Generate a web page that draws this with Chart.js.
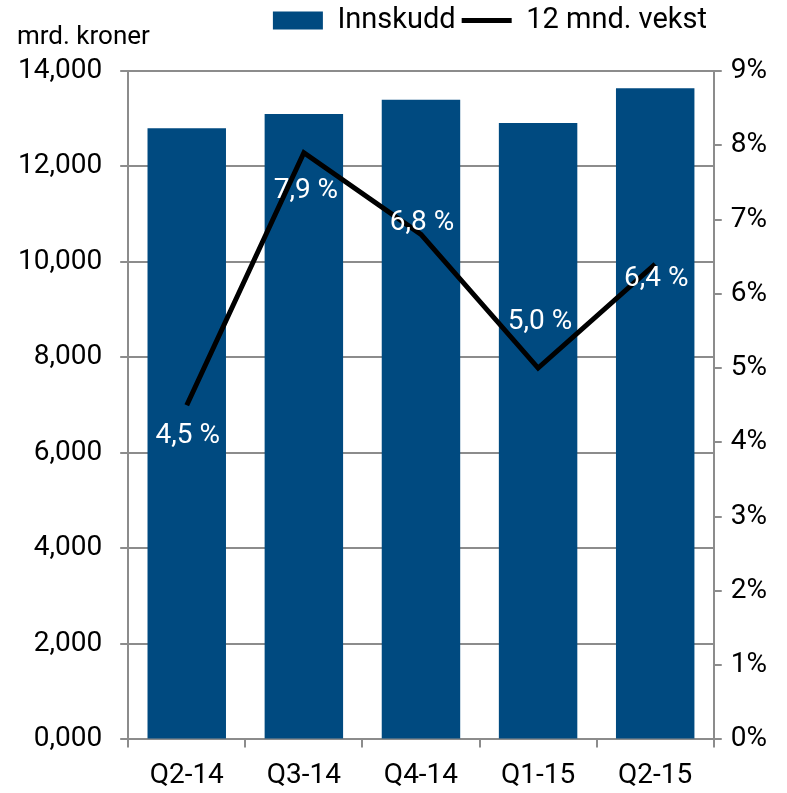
<!DOCTYPE html>
<html>
<head>
<meta charset="utf-8">
<script src="https://cdn.jsdelivr.net/npm/chart.js@4.4.1/dist/chart.umd.min.js"></script>
<style>
  html, body { margin: 0; padding: 0; background: #fff; }
</style>
</head>
<body>
<canvas id="myChart" width="787" height="793"></canvas>
<script>
// data
var kvartal = ['Q2-14', 'Q3-14', 'Q4-14', 'Q1-15', 'Q2-15'];
var innskudd = [12800, 13100, 13400, 12910, 13640];
var vekst = [4.5, 7.9, 6.8, 5.0, 6.4];
var vekstTekst = ['4,5 %', '7,9 %', '6,8 %', '5,0 %', '6,4 %'];
var venstreTicks = ['0,000', '2,000', '4,000', '6,000', '8,000', '10,000', '12,000', '14,000'];
var hoyreTicks = ['0%', '1%', '2%', '3%', '4%', '5%', '6%', '7%', '8%', '9%'];

var FONT = "Roboto, sans-serif";
var BLA = '#004a80';
var GRA = '#8c8c8c';

// plassering av etikettene (forskyvning fra punktet)
var etikettDx = [1, 2, 1, 2, 1];
var etikettDy = [31, 38, -11, -46, 15];

var etiketter = {
    id: 'etiketter',
    beforeInit: function(chart) {
        // mer luft mellom forklaringen og plottet
        var fit = chart.legend.fit;
        chart.legend.fit = function() {
            fit.call(this);
            this.height = 71;
        };
    },
    afterLayout: function(chart) {
        // forklaringen skal slutte ved x = 707
        chart.legend.right = 713;
    },
    afterDatasetsDraw: function(chart) {
        var ctx = chart.ctx;
        var meta = chart.getDatasetMeta(1);
        ctx.save();
        ctx.font = '28px ' + FONT;
        ctx.fillStyle = '#ffffff';
        ctx.textAlign = 'center';
        ctx.textBaseline = 'middle';
        meta.data.forEach(function(p, i) {
            ctx.fillText(vekstTekst[i], p.x + etikettDx[i], p.y + etikettDy[i]);
        });
        // enhet øverst til venstre
        ctx.fillStyle = '#000';
        ctx.font = '26px ' + FONT;
        ctx.textAlign = 'left';
        ctx.fillText('mrd. kroner', 17, 37);
        ctx.restore();
    }
};

var ctx = document.getElementById('myChart').getContext('2d');
var myChart = new Chart(ctx, {
    type: 'bar',
    data: {
        labels: kvartal,
        datasets: [
            {
                label: 'Innskudd',
                data: innskudd,
                backgroundColor: BLA,
                borderColor: BLA,
                yAxisID: 'y',
                categoryPercentage: 1.0,
                barPercentage: 0.67,
                pointStyle: 'rect',
                order: 2
            },
            {
                type: 'line',
                label: '12 mnd. vekst',
                data: vekst,
                borderColor: '#000',
                backgroundColor: '#000',
                borderWidth: 5,
                pointRadius: 0,
                tension: 0,
                yAxisID: 'y1',
                pointStyle: 'line',
                order: 1
            }
        ]
    },
    options: {
        responsive: false,
        animation: false,
        devicePixelRatio: 1,
        layout: { padding: { left: 0, right: 11, top: 0, bottom: -12 } },
        plugins: {
            legend: {
                position: 'top',
                align: 'end',
                labels: {
                    usePointStyle: true,
                    pointStyleWidth: 50,
                    boxHeight: 18,
                    padding: 6,
                    color: '#000',
                    font: { family: FONT, size: 29 },
                    sort: function(a, b) { return a.datasetIndex - b.datasetIndex; }
                }
            },
            tooltip: { enabled: false }
        },
        scales: {
            x: {
                grid: {
                    offset: true,
                    drawOnChartArea: false,
                    drawTicks: true,
                    tickLength: 8,
                    color: GRA,
                    lineWidth: 2
                },
                border: { color: GRA, width: 2 },
                ticks: { color: '#000', font: { family: FONT, size: 28 }, padding: 12, maxRotation: 0 }
            },
            y: {
                position: 'left',
                min: 0,
                max: 14000,
                afterBuildTicks: function(axis) {
                    axis.ticks = venstreTicks.map(function(t, i) { return { value: i * 2000 }; });
                },
                grid: { color: GRA, lineWidth: 2, tickLength: 8 },
                border: { color: GRA, width: 2 },
                ticks: {
                    color: '#000',
                    font: { family: FONT, size: 28 },
                    padding: 18,
                    callback: function(v, i) { return venstreTicks[i]; }
                }
            },
            y1: {
                position: 'right',
                min: 0,
                max: 9,
                afterBuildTicks: function(axis) {
                    axis.ticks = hoyreTicks.map(function(t, i) { return { value: i }; });
                },
                grid: { drawOnChartArea: false, color: GRA, lineWidth: 2, tickLength: 8 },
                border: { color: GRA, width: 2 },
                ticks: {
                    color: '#000',
                    font: { family: FONT, size: 28 },
                    padding: 9,
                    callback: function(v, i) { return hoyreTicks[i]; }
                }
            }
        }
    },
    plugins: [etiketter]
});
</script>
</body>
</html>
